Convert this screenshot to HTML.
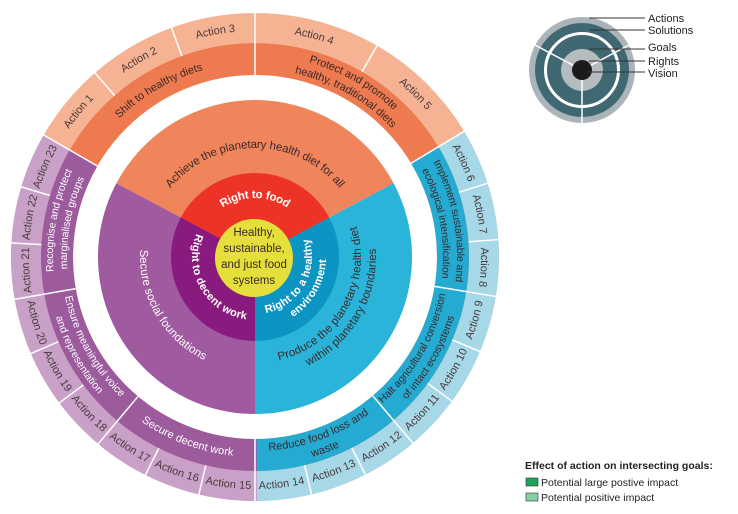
<!DOCTYPE html>
<html><head><meta charset="utf-8"><style>
body{margin:0;background:#fff}
svg{display:block}
text{font-family:"Liberation Sans",sans-serif}
.a{font-size:11px;fill:#4a3a3a}
.s{font-size:11px;fill:#3a2a2a}
.sw{font-size:11px;fill:#fff}
.g{font-size:11.5px;fill:#3a2a2a}
.gw{font-size:11.5px;fill:#fff}
.r{font-size:11px;fill:#fff;font-weight:bold}
</style></head><body>
<svg width="738" height="514" viewBox="0 0 738 514" xmlns="http://www.w3.org/2000/svg">
<defs>
<path id="c229" d="M255,486 A229,229 0 1 1 255,28 A229,229 0 1 1 255,486"/>
<path id="a229" d="M255,28 A229,229 0 1 0 255,486 A229,229 0 1 0 255,28"/>
<path id="c205" d="M255,462 A205,205 0 1 1 255,52 A205,205 0 1 1 255,462"/>
<path id="a205" d="M255,52 A205,205 0 1 0 255,462 A205,205 0 1 0 255,52"/>
<path id="c197" d="M255,454 A197,197 0 1 1 255,60 A197,197 0 1 1 255,454"/>
<path id="a197" d="M255,60 A197,197 0 1 0 255,454 A197,197 0 1 0 255,60"/>
<path id="c191" d="M255,448 A191,191 0 1 1 255,66 A191,191 0 1 1 255,448"/>
<path id="a191" d="M255,66 A191,191 0 1 0 255,448 A191,191 0 1 0 255,66"/>
<path id="c112" d="M255,369 A112,112 0 1 1 255,145 A112,112 0 1 1 255,369"/>
<path id="a112" d="M255,145 A112,112 0 1 0 255,369 A112,112 0 1 0 255,145"/>
<path id="a103" d="M255,154 A103,103 0 1 0 255,360 A103,103 0 1 0 255,154"/>
<path id="a118" d="M255,139 A118,118 0 1 0 255,375 A118,118 0 1 0 255,139"/>
<path id="c62" d="M255,319 A62,62 0 1 1 255,195 A62,62 0 1 1 255,319"/>
<path id="a60" d="M255,197 A60,60 0 1 0 255,317 A60,60 0 1 0 255,197"/>
<path id="a54" d="M255,203 A54,54 0 1 0 255,311 A54,54 0 1 0 255,203"/>
<path id="a68" d="M255,189 A68,68 0 1 0 255,325 A68,68 0 1 0 255,189"/>
</defs>

<g transform="rotate(-90 255 257)" fill="none">
<circle cx="255" cy="257" r="229" stroke="#f6b394" stroke-width="30"/>
<circle cx="255" cy="257" r="229" stroke="#a6d8e8" stroke-width="30" pathLength="360" stroke-dasharray="121 360" stroke-dashoffset="-59"/>
<circle cx="255" cy="257" r="229" stroke="#c8a0c8" stroke-width="30" pathLength="360" stroke-dasharray="120.5 360" stroke-dashoffset="-179.5"/>
<circle cx="255" cy="257" r="198" stroke="#ee7a4f" stroke-width="32"/>
<circle cx="255" cy="257" r="198" stroke="#25aad1" stroke-width="32" pathLength="360" stroke-dasharray="121 360" stroke-dashoffset="-59"/>
<circle cx="255" cy="257" r="198" stroke="#9b5b9d" stroke-width="32" pathLength="360" stroke-dasharray="120.5 360" stroke-dashoffset="-179.5"/>
</g>
<!-- goals wedges -->
<path d="M255,257 L116.38,183.29 A157,157 0 0 1 393.62,183.29 Z" fill="#f0845a"/>
<path d="M255,257 L393.62,183.29 A157,157 0 0 1 255,414 Z" fill="#2bb4d9"/>
<path d="M255,257 L255,414 A157,157 0 0 1 116.38,183.29 Z" fill="#a05a9f"/>
<!-- rights wedges -->
<path d="M255,257 L180.83,217.56 A84,84 0 0 1 329.17,217.56 Z" fill="#ec3326"/>
<path d="M255,257 L329.17,217.56 A84,84 0 0 1 255,341 Z" fill="#0c94c3"/>
<path d="M255,257 L255,341 A84,84 0 0 1 180.83,217.56 Z" fill="#8a1b7e"/>
<circle cx="254" cy="258" r="39" fill="#e4df3a"/>

<g stroke="#fff" stroke-width="1.5">
<line x1="255" y1="43" x2="255" y2="12" transform="rotate(-41 255 257)"/>
<line x1="255" y1="43" x2="255" y2="12" transform="rotate(-20 255 257)"/>
<line x1="255" y1="75" x2="255" y2="12" transform="rotate(0 255 257)"/>
<line x1="255" y1="43" x2="255" y2="12" transform="rotate(30 255 257)"/>
<line x1="255" y1="75" x2="255" y2="12" transform="rotate(59 255 257)"/>
<line x1="255" y1="43" x2="255" y2="12" transform="rotate(72.4 255 257)"/>
<line x1="255" y1="43" x2="255" y2="12" transform="rotate(85.9 255 257)"/>
<line x1="255" y1="75" x2="255" y2="12" transform="rotate(99.3 255 257)"/>
<line x1="255" y1="43" x2="255" y2="12" transform="rotate(112.8 255 257)"/>
<line x1="255" y1="43" x2="255" y2="12" transform="rotate(126.2 255 257)"/>
<line x1="255" y1="75" x2="255" y2="12" transform="rotate(139.7 255 257)"/>
<line x1="255" y1="43" x2="255" y2="12" transform="rotate(153.1 255 257)"/>
<line x1="255" y1="43" x2="255" y2="12" transform="rotate(166.6 255 257)"/>
<line x1="255" y1="75" x2="255" y2="12" transform="rotate(180 255 257)"/>
<line x1="255" y1="43" x2="255" y2="12" transform="rotate(193.3 255 257)"/>
<line x1="255" y1="43" x2="255" y2="12" transform="rotate(206.7 255 257)"/>
<line x1="255" y1="75" x2="255" y2="12" transform="rotate(220 255 257)"/>
<line x1="255" y1="43" x2="255" y2="12" transform="rotate(233.3 255 257)"/>
<line x1="255" y1="43" x2="255" y2="12" transform="rotate(246.7 255 257)"/>
<line x1="255" y1="75" x2="255" y2="12" transform="rotate(260 255 257)"/>
<line x1="255" y1="43" x2="255" y2="12" transform="rotate(273.3 255 257)"/>
<line x1="255" y1="43" x2="255" y2="12" transform="rotate(286.7 255 257)"/>
<line x1="255" y1="75" x2="255" y2="12" transform="rotate(300 255 257)"/>
</g>

<g class="a" text-anchor="middle" dominant-baseline="central">
<text><textPath href="#c229" startOffset="35.97%">Action 1</textPath></text>
<text><textPath href="#c229" startOffset="41.53%">Action 2</textPath></text>
<text><textPath href="#c229" startOffset="47.22%">Action 3</textPath></text>
<text><textPath href="#c229" startOffset="54.17%">Action 4</textPath></text>
<text><textPath href="#c229" startOffset="62.36%">Action 5</textPath></text>
<text><textPath href="#c229" startOffset="68.25%">Action 6</textPath></text>
<text><textPath href="#c229" startOffset="72.0%">Action 7</textPath></text>
<text><textPath href="#c229" startOffset="75.72%">Action 8</textPath></text>
<text><textPath href="#a229" startOffset="70.56%">Action 9</textPath></text>
<text><textPath href="#a229" startOffset="66.81%">Action 10</textPath></text>
<text><textPath href="#a229" startOffset="63.08%">Action 11</textPath></text>
<text><textPath href="#a229" startOffset="59.36%">Action 12</textPath></text>
<text><textPath href="#a229" startOffset="55.61%">Action 13</textPath></text>
<text><textPath href="#a229" startOffset="51.86%">Action 14</textPath></text>
<text><textPath href="#a229" startOffset="48.14%">Action 15</textPath></text>
<text><textPath href="#a229" startOffset="44.44%">Action 16</textPath></text>
<text><textPath href="#a229" startOffset="40.75%">Action 17</textPath></text>
<text><textPath href="#a229" startOffset="37.03%">Action 18</textPath></text>
<text><textPath href="#a229" startOffset="33.33%">Action 19</textPath></text>
<text><textPath href="#a229" startOffset="29.64%">Action 20</textPath></text>
<text><textPath href="#c229" startOffset="24.08%">Action 21</textPath></text>
<text><textPath href="#c229" startOffset="27.78%">Action 22</textPath></text>
<text><textPath href="#c229" startOffset="31.47%">Action 23</textPath></text>
</g>

<g text-anchor="middle" dominant-baseline="central">
<text class="s"><textPath href="#c197" startOffset="41.67%">Shift to healthy diets</textPath></text>
<text class="s"><textPath href="#c205" startOffset="58.19%">Protect and promote</textPath></text>
<text class="s"><textPath href="#c191" startOffset="58.19%">healthy, traditional diets</textPath></text>
<text class="s" style="font-size:10.5px"><textPath href="#c205" startOffset="72.08%">Implement sustainable and</textPath></text>
<text class="s" style="font-size:10.5px"><textPath href="#c191" startOffset="72.08%">ecological intensification</textPath></text>
<text class="s" style="font-size:10.5px"><textPath href="#a191" startOffset="66.67%">Halt agricultural conversion</textPath></text>
<text class="s" style="font-size:10.5px"><textPath href="#a205" startOffset="66.67%">of intact ecosystems</textPath></text>
<text class="s"><textPath href="#a191" startOffset="55.56%">Reduce food loss and</textPath></text>
<text class="s"><textPath href="#a205" startOffset="55.56%">waste</textPath></text>
<text class="sw"><textPath href="#a197" startOffset="44.31%">Secure decent work</textPath></text>
<text class="sw" style="font-size:10.5px"><textPath href="#a191" startOffset="33.06%">Ensure meaningful voice</textPath></text>
<text class="sw" style="font-size:10.5px"><textPath href="#a205" startOffset="33.06%">and representation</textPath></text>
<text class="sw" style="font-size:10.5px"><textPath href="#c205" startOffset="27.92%">Recognise and protect</textPath></text>
<text class="sw" style="font-size:10.5px"><textPath href="#c191" startOffset="27.92%">marginalised groups</textPath></text>
</g>

<g text-anchor="middle" dominant-baseline="central">
<text class="g"><textPath href="#c112" startOffset="50%">Achieve the planetary health diet for all</textPath></text>
<text class="gw"><textPath href="#a112" startOffset="33.33%">Secure social foundations</textPath></text>
<text class="g"><textPath href="#a103" startOffset="66.67%">Produce the planetary health diet</textPath></text>
<text class="g"><textPath href="#a118" startOffset="66.67%">within planetary boundaries</textPath></text>
<text class="r" style="font-size:11.5px"><textPath href="#c62" startOffset="50%">Right to food</textPath></text>
<text class="r"><textPath href="#a60" startOffset="33.33%">Right to decent work</textPath></text>
<text class="r"><textPath href="#a54" startOffset="66.67%">Right to a healthy</textPath></text>
<text class="r"><textPath href="#a68" startOffset="66.67%">environment</textPath></text>
</g>

<g text-anchor="middle" font-size="11.5" fill="#3a2a2a">
<text x="254" y="236">Healthy,</text>
<text x="254" y="252">sustainable,</text>
<text x="254" y="268">and just food</text>
<text x="254" y="284">systems</text>
</g>

<circle cx="582" cy="70" r="53" fill="#aab4b9"/>
<circle cx="582" cy="70" r="47" fill="#3f6872"/>
<circle cx="582" cy="70" r="36.5" fill="none" stroke="#fff" stroke-width="3"/>
<circle cx="582" cy="70" r="21" fill="#b5bcc0"/>
<circle cx="582" cy="70" r="10" fill="#1b1b1b"/>
<g stroke="#fff" stroke-width="1.5">
<line x1="582" y1="60" x2="582" y2="17" transform="rotate(-62 582 70)"/>
<line x1="582" y1="60" x2="582" y2="17" transform="rotate(62 582 70)"/>
<line x1="582" y1="80" x2="582" y2="123"/>
</g>
<g stroke="#333" stroke-width="1">
<line x1="589" y1="18" x2="645" y2="18"/>
<line x1="589" y1="30" x2="645" y2="30"/>
<line x1="589" y1="49" x2="645" y2="49"/>
<line x1="589" y1="61" x2="645" y2="61"/>
<line x1="587" y1="72" x2="645" y2="72"/>
</g>
<g font-size="11" fill="#222">
<text x="648" y="22">Actions</text>
<text x="648" y="34">Solutions</text>
<text x="648" y="51">Goals</text>
<text x="648" y="65">Rights</text>
<text x="648" y="77">Vision</text>
</g>

<text x="525" y="469" font-size="10.5" fill="#222" font-weight="bold">Effect of action on intersecting goals:</text>
<rect x="526" y="478" width="12" height="8" fill="#1ea35c" stroke="#333" stroke-width="0.6"/>
<text x="541" y="486" font-size="10.5" fill="#222">Potential large postive impact</text>
<rect x="526" y="493" width="12" height="8" fill="#86cfa6" stroke="#333" stroke-width="0.6"/>
<text x="541" y="501" font-size="10.5" fill="#222">Potential positive impact</text>
</svg>
</body></html>
